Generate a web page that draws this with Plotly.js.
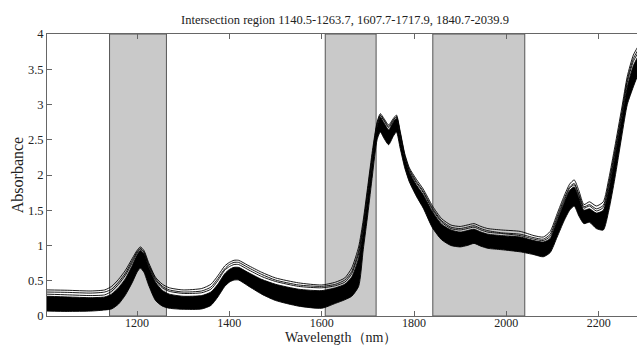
<!DOCTYPE html>
<html>
<head>
<meta charset="utf-8">
<script src="https://cdn.plot.ly/plotly-3.0.1.min.js"></script>
<style>
html,body{margin:0;padding:0;overflow:hidden;background:#fff;width:637px;height:346px;}
#chart{width:660px;height:346px;}
</style>
</head>
<body>
<div id="chart"></div>
<script>
// Wavelength nodes (nm)
const wavelength = [1005,1050,1100,1130,1145,1160,1175,1190,1200,1207,1215,1225,1240,1255,1270,1300,1340,1360,1375,1390,1400,1410,1420,1440,1470,1500,1550,1600,1630,1650,1665,1680,1690,1700,1710,1720,1727,1735,1745,1755,1762,1770,1780,1790,1805,1820,1840,1860,1880,1900,1915,1930,1945,1960,1990,2030,2060,2080,2095,2110,2125,2137,2147,2157,2168,2180,2195,2210,2222,2235,2250,2262,2275,2285];

// Highest spectrum
const spectrumTop = [0.37,0.365,0.355,0.37,0.42,0.52,0.65,0.82,0.93,0.98,0.93,0.76,0.55,0.45,0.40,0.37,0.39,0.45,0.57,0.71,0.76,0.79,0.79,0.72,0.62,0.54,0.47,0.44,0.48,0.54,0.68,0.98,1.36,1.85,2.35,2.75,2.87,2.80,2.71,2.80,2.85,2.62,2.30,2.10,1.94,1.80,1.56,1.38,1.29,1.27,1.29,1.31,1.27,1.24,1.22,1.20,1.14,1.12,1.20,1.45,1.70,1.87,1.93,1.78,1.58,1.62,1.56,1.62,1.95,2.40,2.95,3.40,3.70,3.82];
// Second spectrum
const spectrum2 = [0.34,0.335,0.325,0.34,0.38,0.48,0.61,0.79,0.91,0.96,0.91,0.74,0.53,0.42,0.37,0.34,0.355,0.41,0.53,0.67,0.73,0.76,0.76,0.69,0.59,0.51,0.44,0.42,0.45,0.51,0.63,0.92,1.30,1.80,2.30,2.73,2.85,2.78,2.69,2.78,2.83,2.60,2.28,2.08,1.91,1.77,1.53,1.35,1.26,1.24,1.26,1.28,1.24,1.21,1.18,1.16,1.11,1.09,1.16,1.41,1.66,1.83,1.88,1.73,1.55,1.58,1.52,1.57,1.89,2.34,2.89,3.35,3.65,3.77];
// Third spectrum
const spectrum3 = [0.31,0.30,0.29,0.30,0.35,0.45,0.58,0.76,0.89,0.95,0.90,0.72,0.51,0.40,0.35,0.32,0.33,0.38,0.50,0.65,0.70,0.73,0.73,0.66,0.56,0.49,0.42,0.40,0.43,0.48,0.60,0.88,1.26,1.76,2.26,2.71,2.84,2.77,2.67,2.77,2.82,2.58,2.26,2.06,1.89,1.75,1.51,1.33,1.24,1.22,1.24,1.26,1.22,1.19,1.17,1.14,1.09,1.07,1.13,1.38,1.63,1.81,1.86,1.71,1.53,1.56,1.49,1.54,1.85,2.30,2.85,3.31,3.61,3.73];
// Upper edge of the dense band of spectra
const bandUpper = [0.28,0.27,0.26,0.27,0.31,0.40,0.53,0.72,0.86,0.93,0.88,0.70,0.48,0.36,0.31,0.28,0.29,0.34,0.45,0.60,0.66,0.69,0.69,0.62,0.52,0.45,0.38,0.36,0.40,0.45,0.55,0.82,1.20,1.70,2.20,2.68,2.82,2.74,2.64,2.75,2.80,2.55,2.24,2.04,1.86,1.72,1.48,1.30,1.22,1.19,1.21,1.23,1.19,1.16,1.14,1.12,1.07,1.05,1.10,1.35,1.60,1.78,1.83,1.68,1.50,1.52,1.46,1.50,1.80,2.25,2.80,3.25,3.55,3.68];
// Lower edge of the dense band of spectra
const bandLower = [0.07,0.065,0.07,0.085,0.10,0.17,0.30,0.48,0.62,0.68,0.62,0.44,0.22,0.14,0.11,0.095,0.10,0.15,0.27,0.42,0.48,0.51,0.51,0.43,0.31,0.22,0.14,0.11,0.18,0.23,0.28,0.42,0.94,1.45,2.00,2.50,2.61,2.52,2.43,2.55,2.61,2.38,2.10,1.90,1.70,1.53,1.25,1.08,1.00,0.98,1.00,1.03,0.99,0.96,0.94,0.91,0.87,0.84,0.90,1.12,1.35,1.50,1.56,1.42,1.31,1.33,1.24,1.22,1.50,1.95,2.55,3.00,3.25,3.42];

// Intersection regions (nm)
const regionStart = [1140.5, 1607.7, 1840.7];
const regionEnd = [1263.7, 1717.9, 2039.9];

const xTicks = [1200,1400,1600,1800,2000,2200];
const yTicks = [0,0.5,1,1.5,2,2.5,3,3.5,4];
const yTickText = ['0','0.5','1','1.5','2','2.5','3','3.5','4'];

const lineStyle = {color:'#000', width:0.9, shape:'spline', smoothing:0.6};

const traces = [
  {x:wavelength, y:bandLower, mode:'lines', line:lineStyle, hoverinfo:'skip', showlegend:false},
  {x:wavelength, y:bandUpper, mode:'lines', line:lineStyle, fill:'tonexty', fillcolor:'#000', hoverinfo:'skip', showlegend:false},
  {x:wavelength, y:spectrum3, mode:'lines', line:lineStyle, hoverinfo:'skip', showlegend:false},
  {x:wavelength, y:spectrum2, mode:'lines', line:lineStyle, hoverinfo:'skip', showlegend:false},
  {x:wavelength, y:spectrumTop, mode:'lines', line:lineStyle, hoverinfo:'skip', showlegend:false}
];

const shapes = regionStart.map((s,i)=>({
  type:'rect', xref:'x', yref:'paper', x0:s, x1:regionEnd[i], y0:0, y1:1,
  fillcolor:'#c9c9c9', line:{color:'#555', width:1}, layer:'below'
}));

const font = {family:'"Liberation Serif", "Times New Roman", serif', color:'#222'};

const layout = {
  width:660, height:346,
  margin:{l:47, r:17, t:34, b:30},
  paper_bgcolor:'#fff', plot_bgcolor:'#fff',
  font:Object.assign({size:13}, font),
  title:{text:'Intersection region 1140.5-1263.7, 1607.7-1717.9, 1840.7-2039.9',
         font:Object.assign({size:12.5}, font), x:0.5, xref:'paper', y:0.942, yref:'container', yanchor:'middle'},
  xaxis:{range:[1005,2296], tickvals:xTicks, ticks:'inside', ticklen:5, tickcolor:'#666',
         showline:true, linecolor:'#666', linewidth:1, mirror:'ticks', showgrid:false, zeroline:false,
         ticklabelstandoff:-4,
         tickfont:Object.assign({size:12}, font)},
  yaxis:{range:[0,4], tickvals:yTicks, ticktext:yTickText, ticks:'inside', ticklen:5, tickcolor:'#666',
         showline:true, linecolor:'#666', linewidth:1, mirror:'ticks', showgrid:false, zeroline:false,
         tickfont:Object.assign({size:12.5}, font),
         title:{text:'Absorbance', font:Object.assign({size:16}, font), standoff:0}},
  annotations:[{text:'Wavelength（nm）', xref:'paper', yref:'paper', x:0.4925, y:-0.046,
                xanchor:'center', yanchor:'top', showarrow:false, borderpad:0,
                font:Object.assign({size:14}, font)}],
  shapes:shapes
};

Plotly.newPlot('chart', traces, layout, {staticPlot:true, displayModeBar:false});
</script>
</body>
</html>
